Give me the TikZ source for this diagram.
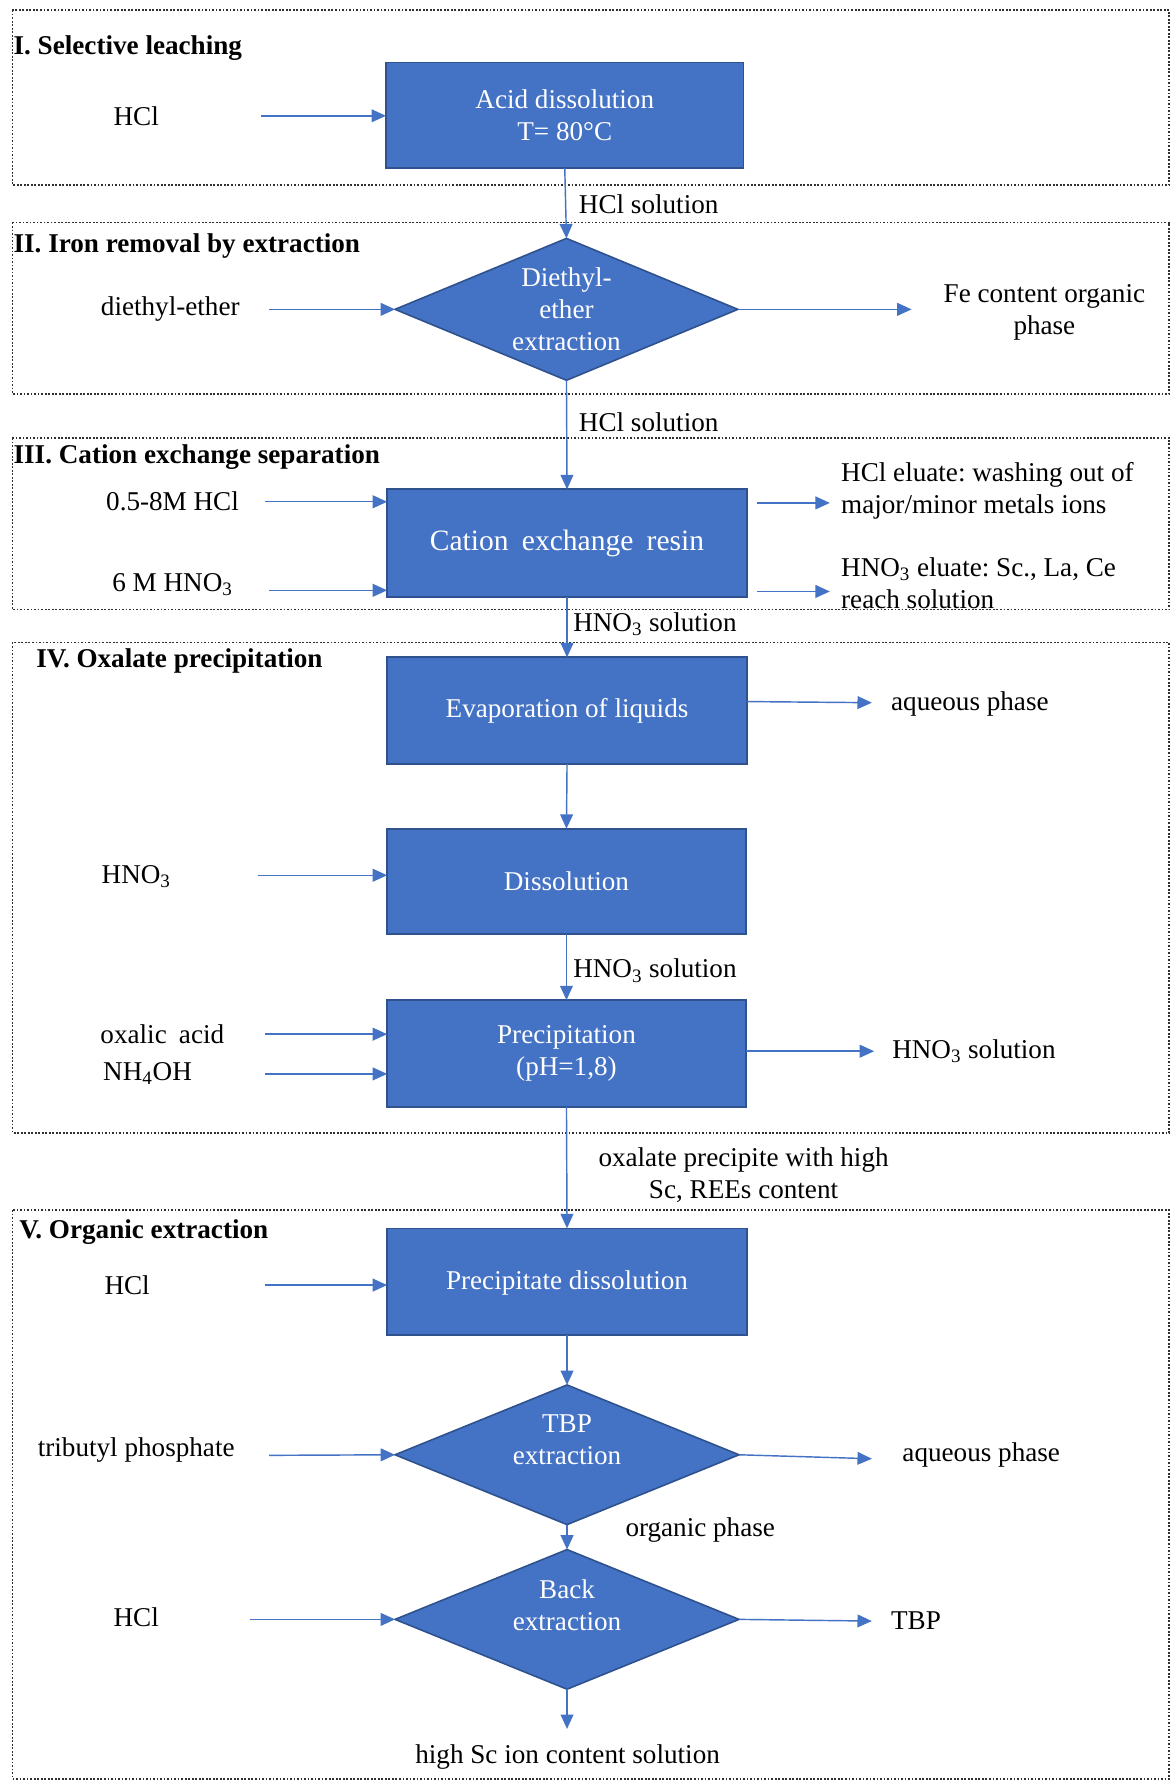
\documentclass[tikz,border=0pt]{standalone}
\usepackage{fontspec}
\setmainfont{Liberation Serif}
\usetikzlibrary{shapes.geometric,arrows.meta}
\definecolor{boxblue}{HTML}{4472C4}
\definecolor{boxedge}{HTML}{2F528F}
\definecolor{arrblue}{HTML}{4472C4}
\definecolor{framegray}{HTML}{303030}
\newlength\pxu
\setlength\pxu{0.025cm}
\frenchspacing
\begin{document}
\begin{tikzpicture}[x=0.025cm,y=-0.025cm,
 every node/.style={font=\fontsize{17}{20}\selectfont, inner sep=0pt, outer sep=0pt},
 procbox/.style={rectangle, fill=boxblue, draw=boxedge, line width=1pt, text=white, align=center},
 procdia/.style={diamond, fill=boxblue, draw=boxedge, line width=1pt, inner sep=0pt},
 diatext/.style={text=white, align=center},
 arr/.style={draw=arrblue, line width=0.9pt, -{Triangle[length=9pt,width=8pt]}},
 frame/.style={draw=framegray, line width=1pt, dash pattern=on 1.1pt off 1.1pt},
 lbl/.style={anchor=west, align=left},
 sectitle/.style={anchor=west, font=\fontsize{17}{20}\selectfont\bfseries},
]
\useasboundingbox (0,0) rectangle (1031,1568);
\fill[white] (0,0) rectangle (1031,1568);

% section frames
\draw[frame] (11,9) rectangle (1030,163);
\draw[frame] (11,196) rectangle (1030,347);
\draw[frame] (11,386) rectangle (1030,537);
\draw[frame] (11,566) rectangle (1030,998);
\draw[frame] (11,1066) rectangle (1030,1567);

% section titles
\node[sectitle] (t1) at (12,42) {I. Selective leaching};
\node[sectitle] (t2) at (12,217) {II. Iron removal by extraction};
\node[sectitle] (t3) at (12,403) {III. Cation exchange separation};
\node[sectitle] (t4) at (32,582) {IV. Oxalate precipitation};
\node[sectitle] (t5) at (17,1085) {V. Organic extraction};

% process nodes
\node[procbox, minimum width=315\pxu, minimum height=93\pxu] (acid) at (497.5,101.5) {Acid dissolution\\T= 80°C};
\node[procdia, minimum width=302\pxu, minimum height=125\pxu] (dee) at (499,272.5) {};
\node[diatext] (deet) at (dee.center) {Diethyl-\\ether\\extraction};
\node[procbox, minimum width=317\pxu, minimum height=95\pxu, font=\fontsize{18.5}{22}\selectfont] (cat) at (499.5,478.5) {Cation\hspace{0.2em} exchange\hspace{0.2em} resin};
\node[procbox, minimum width=317\pxu, minimum height=94\pxu] (evap) at (499.5,626) {Evaporation of liquids};
\node[procbox, minimum width=316\pxu, minimum height=93\pxu] (diss) at (499,776.5) {Dissolution};
\node[procbox, minimum width=316\pxu, minimum height=94\pxu] (prec) at (499,928) {Precipitation\\(pH=1,8)};
\node[procbox, minimum width=317\pxu, minimum height=94\pxu] (pdiss) at (499.5,1129) {};
\node[diatext] (pdisst) at (499.5,1130) {Precipitate dissolution};
\node[procdia, minimum width=303\pxu, minimum height=123\pxu] (tbp) at (499.5,1281.5) {};
\node[diatext] (tbpt) at (499.5,1268) {TBP\\extraction};
\node[procdia, minimum width=303\pxu, minimum height=123\pxu] (back) at (499.5,1426.5) {};
\node[diatext] (backt) at (499.5,1414) {Back\\extraction};

% main vertical flow
\draw[arr] (acid.south) -- (dee.north);
\node[lbl] (l1) at (510,180) {HCl solution};
\draw[arr] (dee.south) -- (cat.north);
\node[lbl] (l2) at (510,372) {HCl solution};
\draw[arr] (cat.south) -- (evap.north);
\node[lbl] (l3) at (505,550) {HNO\textsubscript{3} solution};
\draw[arr] (evap.south) -- (diss.north);
\draw[arr] (diss.south) -- (prec.north);
\node[lbl] (l4) at (505,855) {HNO\textsubscript{3} solution};
\draw[arr] (prec.south) -- (pdiss.north);
\node[align=center] (l5) at (655,1035) {oxalate precipite with high\\Sc, REEs content};
\draw[arr] (pdiss.south) -- (tbp.north);
\draw[arr] (tbp.south) -- (back.north);
\node[lbl] (l6) at (551,1348) {organic phase};
\coordinate (fin) at (499.5,1523);
\draw[arr] (back.south) -- (fin);
\node (finl) at (500,1548) {high Sc ion content solution};

% I inputs
\node (in1) at (120,102) {HCl};
\coordinate (in1s) at (230,102);
\draw[arr] (in1s) -- (acid.west |- in1s);

% II
\node (in2) at (150,272) {diethyl-ether};
\coordinate (in2s) at (237,272.5);
\draw[arr] (in2s) -- (dee.west);
\coordinate (out2e) at (803,272.5);
\draw[arr] (dee.east) -- (out2e);
\node[align=center] (out2) at (920,275) {Fe content organic\\phase};

% III
\node (in3a) at (152,442) {0.5-8M HCl};
\coordinate (in3as) at (233,442);
\draw[arr] (in3as) -- (cat.west |- in3as);
\node (in3b) at (152,515) {6 M HNO\textsubscript{3}};
\coordinate (in3bs) at (237,520);
\draw[arr] (in3bs) -- (cat.west |- in3bs);
\coordinate (o3as) at (667,443);
\coordinate (o3ae) at (731,443);
\draw[arr] (o3as) -- (o3ae);
\coordinate (o3bs) at (667,521);
\coordinate (o3be) at (731,521);
\draw[arr] (o3bs) -- (o3be);
\node[lbl] (o3a) at (741,432) {HCl eluate: washing out of\\major/minor metals ions};
\node[lbl] (o3b) at (741,513.5) {HNO\textsubscript{3} eluate: Sc., La, Ce\\reach solution};

% IV
\coordinate (o4ae) at (768,619);
\draw[arr] (evap.east |- 0,618) -- (o4ae);
\node[lbl] (o4a) at (785,620) {aqueous phase};
\node (in4a) at (120,772) {HNO\textsubscript{3}};
\coordinate (in4as) at (227,771);
\draw[arr] (in4as) -- (diss.west |- in4as);
\node (in4b) at (143,911) {oxalic\hspace{0.2em} acid};
\coordinate (in4bs) at (233,911);
\draw[arr] (in4bs) -- (prec.west |- in4bs);
\node (in4c) at (130,946) {NH\textsubscript{4}OH};
\coordinate (in4cs) at (233,946);
\draw[arr] (in4cs) -- (prec.west |- in4cs);
\coordinate (o4be) at (770,926);
\draw[arr] (prec.east |- o4be) -- (o4be);
\node[lbl] (o4b) at (786,926) {HNO\textsubscript{3} solution};

% V
\node (in5a) at (112,1132) {HCl};
\coordinate (in5as) at (233,1132);
\draw[arr] (in5as) -- (pdiss.west |- in5as);
\node (in5b) at (120,1277) {tributyl phosphate};
\coordinate (in5bs) at (237,1282);
\draw[arr] (in5bs) -- (tbp.west);
\coordinate (o5ae) at (768,1285);
\draw[arr] (tbp.east) -- (o5ae);
\node[lbl] (o5a) at (795,1282) {aqueous phase};
\node (in5c) at (120,1425) {HCl};
\coordinate (in5cs) at (220,1426.5);
\draw[arr] (in5cs) -- (back.west);
\coordinate (o5be) at (768,1428);
\draw[arr] (back.east) -- (o5be);
\node[lbl] (o5b) at (785,1428) {TBP};
\end{tikzpicture}
\end{document}
